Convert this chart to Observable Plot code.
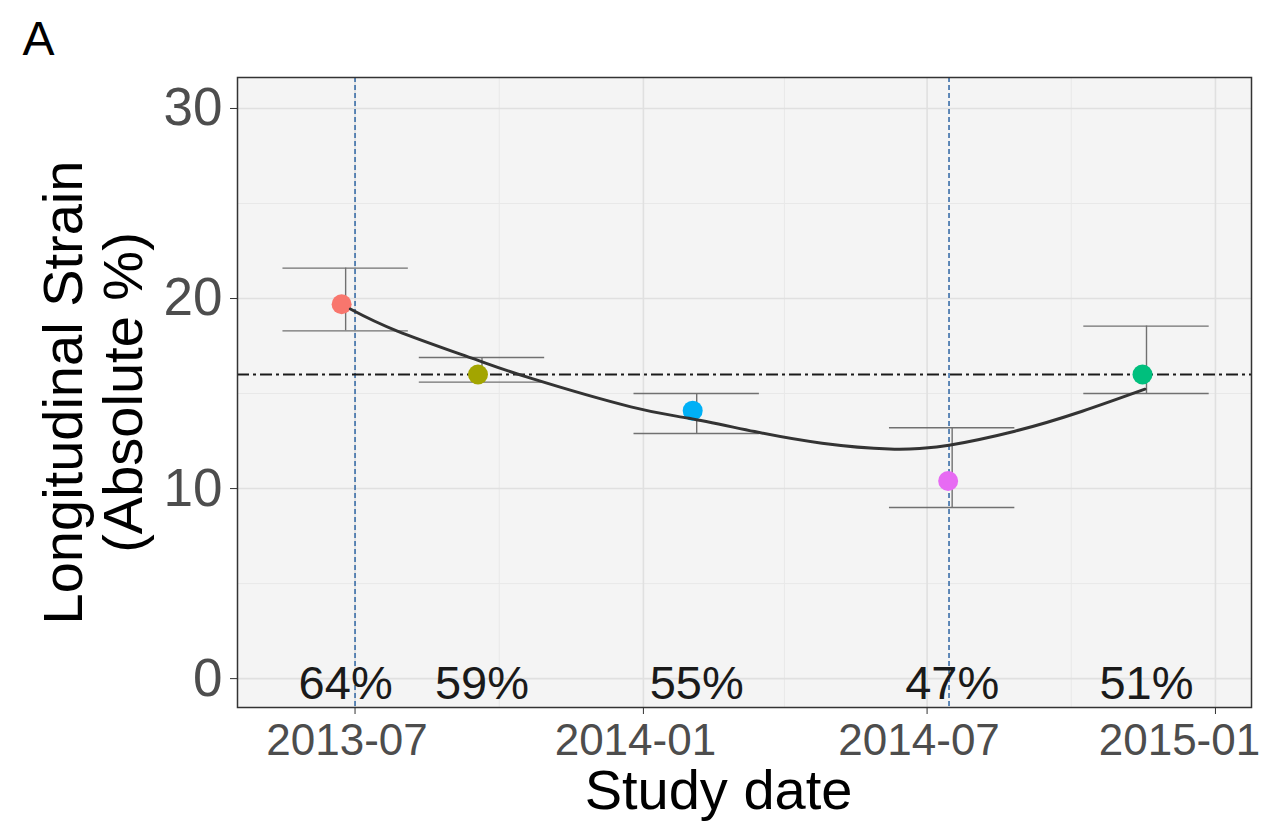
<!DOCTYPE html>
<html><head><meta charset="utf-8">
<script src="https://cdn.jsdelivr.net/npm/d3@7"></script>
<script src="https://cdn.jsdelivr.net/npm/@observablehq/plot@0.6"></script>
<style>
body{margin:0;background:#fff;font-family:"Liberation Sans",Arial,sans-serif;}
#chart svg{display:block;}
</style></head><body><div id="chart"></div>
<script>
const studyDates = ["2013-06-25","2013-09-20","2014-02-04","2014-07-17","2014-11-18"];
const strainMean = [19.7, 16.0, 14.1, 10.4, 16.0];
const strainLow  = [18.3, 15.6, 12.9, 9.0, 15.0];
const strainHigh = [21.6, 16.9, 15.0, 13.2, 18.55];
const efLabels = ["64%","59%","55%","47%","51%"];
const pointColors = ["#F8766D","#A3A500","#00B0F6","#E76BF3","#00BF7D"];
const smoothDates = ["2013-06-28","2013-07-28","2013-09-15","2013-10-21","2013-12-24","2014-01-30","2014-03-13","2014-04-25","2014-06-07","2014-06-28","2014-07-15","2014-08-26","2014-10-08","2014-11-17"];
const smoothValues = [19.45, 18.29, 16.82, 15.81, 14.30, 13.70, 13.00, 12.39, 12.08, 12.12, 12.28, 13.02, 14.07, 15.23];
const referenceStrain = [16.0];
const markerDates = ["2013-07-01","2014-07-15"];
const xTicks = ["2013-07-01","2014-01-01","2014-07-01"];
const xTickLast = ["2015-01-01"];
const xMinor = ["2013-10-01","2014-04-01","2014-10-01"];
const yTicks = [0, 10, 20, 30];
const yMinor = [5, 15, 25];

const P = d3.utcParse("%Y-%m-%d");
const studies = studyDates.map((d, i) => ({
  date: P(d), mean: strainMean[i], low: strainLow[i], high: strainHigh[i],
  label: efLabels[i], color: pointColors[i]
}));
const smooth = smoothDates.map((d, i) => ({date: P(d), value: smoothValues[i]}));
const whiskerHalf = 40; // days
const fmt = d3.utcFormat("%Y-%m");
const allXTicks = xTicks.concat(xTickLast).map(P);
const tickLabelStyle = {x: d => d, text: d => fmt(d), frameAnchor: "bottom", lineAnchor: "top", dy: 16, fontSize: 44, fill: "#4D4D4D"};

const chart = Plot.plot({
  width: 1263, height: 821,
  marginLeft: 237, marginRight: 12, marginTop: 77, marginBottom: 114,
  style: {fontFamily: "'Liberation Sans', Arial, sans-serif", background: "#fff"},
  x: {type: "utc", domain: [P("2013-04-17"), P("2015-01-24")]},
  y: {domain: [-1.52, 31.63]},
  marks: [
    Plot.frame({fill: "#F4F4F4", stroke: "none"}),
    Plot.ruleX(xMinor.map(P), {stroke: "#E8E8E8", strokeWidth: 1}),
    Plot.ruleY(yMinor, {stroke: "#E8E8E8", strokeWidth: 1}),
    Plot.ruleX(allXTicks, {stroke: "#E0E0E0", strokeWidth: 1.6}),
    Plot.ruleY(yTicks, {stroke: "#E0E0E0", strokeWidth: 1.6}),
    Plot.ruleX(markerDates.map(P), {stroke: "#3A6EA8", strokeWidth: 1.6, strokeDasharray: "5,3"}),
    Plot.ruleY(referenceStrain, {stroke: "#1a1a1a", strokeWidth: 2, strokeDasharray: "12,4,3,4"}),
    Plot.ruleX(studies, {x: "date", y1: "low", y2: "high", stroke: "#707070", strokeWidth: 1.4}),
    Plot.ruleY(studies, {y: "low", x1: d => d3.utcDay.offset(d.date, -whiskerHalf), x2: d => d3.utcDay.offset(d.date, whiskerHalf), stroke: "#707070", strokeWidth: 1.4}),
    Plot.ruleY(studies, {y: "high", x1: d => d3.utcDay.offset(d.date, -whiskerHalf), x2: d => d3.utcDay.offset(d.date, whiskerHalf), stroke: "#707070", strokeWidth: 1.4}),
    Plot.dot(studies, {x: "date", y: "mean", r: 10, fill: "color", stroke: "none", dx: -4}),
    Plot.line(smooth, {x: "date", y: "value", stroke: "#333333", strokeWidth: 3, curve: "natural"}),
    Plot.text(studies, {x: "date", y: () => 0, text: "label", fontSize: 47, fill: "#1a1a1a", lineAnchor: "middle", dy: 5}),
    Plot.frame({stroke: "#333333", strokeWidth: 1.5}),
    Plot.axisX(allXTicks, {tickFormat: () => "", tickSize: 7, stroke: "#333", label: null}),
    Plot.text(xTicks.map(P), {...tickLabelStyle, dx: -8}),
    Plot.text(xTickLast.map(P), {...tickLabelStyle, dx: -36}),
    Plot.axisY(yTicks, {fontSize: 53, color: "#4D4D4D", tickSize: 7, tickPadding: 8, stroke: "#333", label: null}),
    Plot.text(["Study date"], {frameAnchor: "bottom", dx: -26, dy: 84, fontSize: 56, fill: "#000", lineAnchor: "middle"}),
    Plot.text(["Longitudinal Strain\n(Absolute %)"], {frameAnchor: "left", dx: -145, rotate: -90, fontSize: 56, lineHeight: 1.07, fill: "#000", textAnchor: "middle", lineAnchor: "middle"}),
    Plot.text(["A"], {frameAnchor: "top-left", dx: -215, dy: -23, fontSize: 48, fill: "#000", textAnchor: "start", lineAnchor: "bottom"})
  ]
});
document.getElementById("chart").appendChild(chart);
</script></body></html>
